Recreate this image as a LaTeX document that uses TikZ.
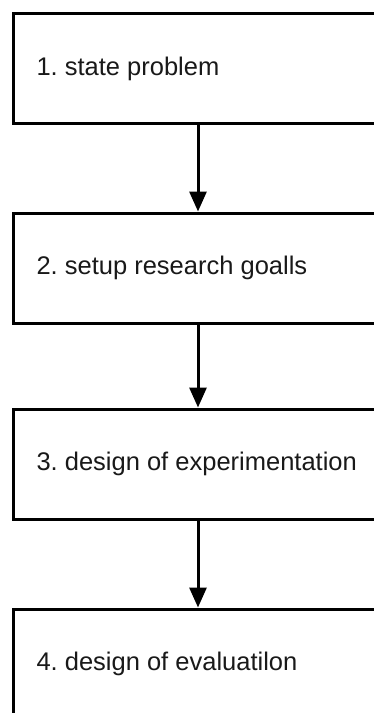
\documentclass[tikz,border=0pt]{standalone}
\usepackage{fontspec}
\setmainfont{Liberation Sans}
\usetikzlibrary{arrows.meta}
\begin{document}
\frenchspacing
\begin{tikzpicture}[x=1pt,y=-1pt,
  stepbox/.style={draw=black, line width=3pt, fill=white, rectangle,
    minimum width=380pt, minimum height=110pt, text width=340pt, inner xsep=23pt,
    align=flush left, font=\fontsize{25.5}{30}\selectfont, text=black!90},
  flow/.style={line width=3pt, -{Triangle[length=20pt,width=17pt]}}]
\useasboundingbox (0,0) rectangle (374,713);
\clip (0,0) rectangle (374,713);
\fill[white] (0,0) rectangle (374,713);
\node[stepbox, anchor=west] (s1) at (12,68.5) {1. state problem};
\node[stepbox, anchor=west] (s2) at (12,268) {2. setup research goalls};
\node[stepbox, anchor=west] (s3) at (12,464) {3. design of experimentation};
\node[stepbox, anchor=west] (s4) at (12,664) {4. design of evaluatilon};
\draw[flow] (s1.south -| 198,0) -- (s2.north -| 198,0);
\draw[flow] (s2.south -| 198,0) -- (s3.north -| 198,0);
\draw[flow] (s3.south -| 198,0) -- (s4.north -| 198,0);
\end{tikzpicture}
\end{document}
